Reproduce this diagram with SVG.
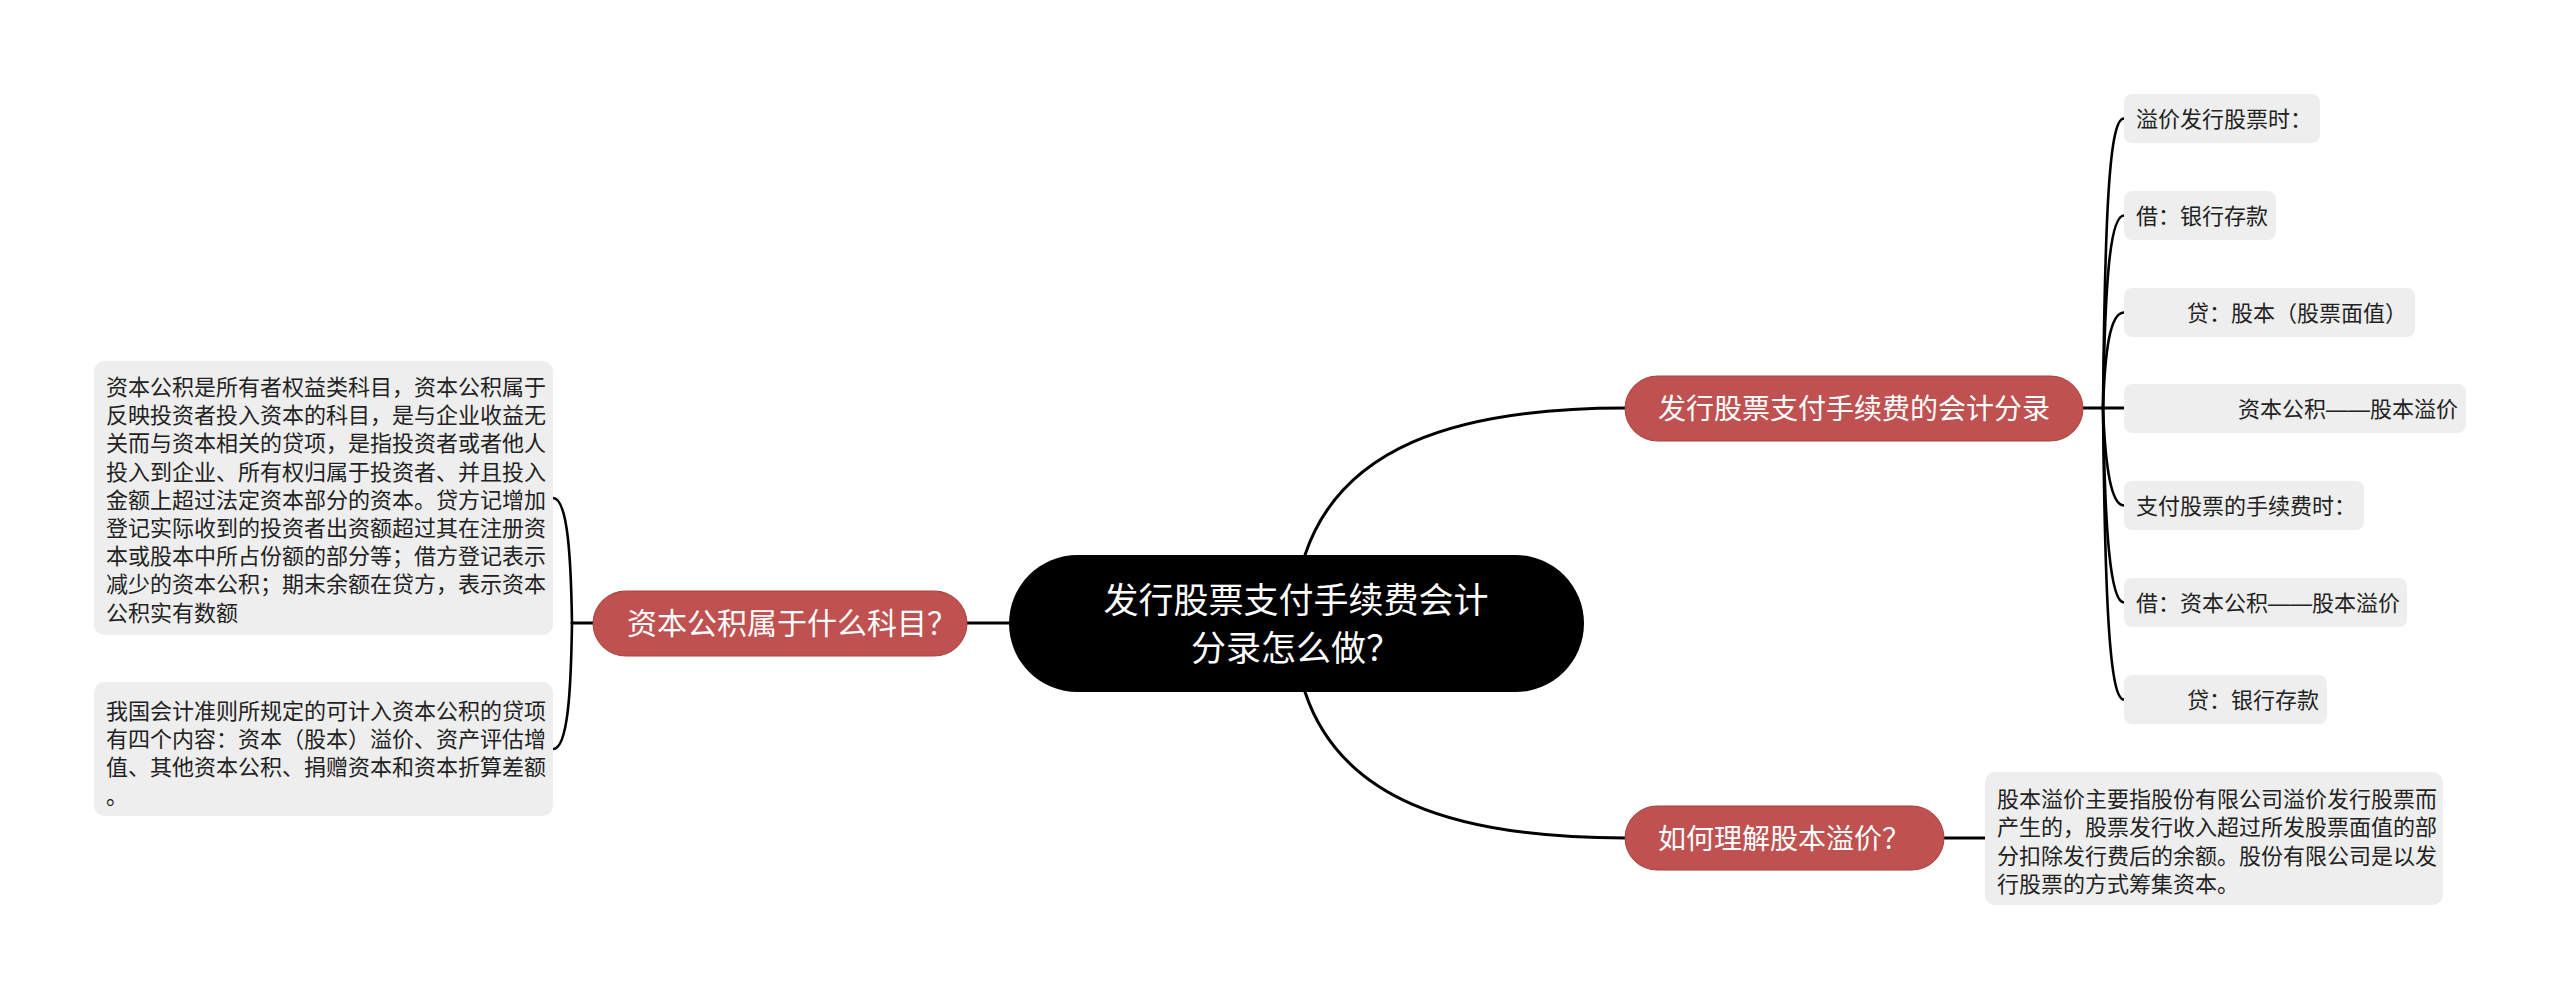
<svg xmlns="http://www.w3.org/2000/svg" width="2560" height="999" viewBox="0 0 2560 999">
<style>
.cjk{font-family:"Liberation Sans","Noto Sans CJK SC",sans-serif;}
.branch rect{fill:#bf5150;stroke:#a8403f;stroke-width:1;}
.branch text{fill:#ffffff;}
.leaf rect{fill:#eeeeee;}
.leaf text{fill:#222222;font-size:22px;}
.conn path{fill:none;stroke:#000000;stroke-width:3;stroke-linecap:round;}
.conn .thin{stroke-width:2.6;}
</style>
<rect width="2560" height="999" fill="#ffffff"/>
<g id="connectors" class="conn">
  <path d="M967 623 L1009 623"/>
  <path d="M593 623 L572 623"/>
  <path class="thin" d="M572 623 C571 560 568 498 553 498"/>
  <path class="thin" d="M572 623 C571 690 568 749 553 749"/>
  <path d="M1305 555 C1340 450 1450 408 1625 408"/>
  <path d="M1305 692 C1340 797 1450 838 1625 838"/>
  <path d="M2083 408 L2124 408"/>
  <path class="thin" d="M2103 408 C2105 200 2110 118.5 2124 118.5"/>
  <path class="thin" d="M2103 408 C2105 280 2110 215.5 2124 215.5"/>
  <path class="thin" d="M2103 408 C2105 350 2110 312.5 2124 312.5"/>
  <path class="thin" d="M2103 408 C2105 460 2110 505.5 2124 505.5"/>
  <path class="thin" d="M2103 408 C2105 530 2110 602.5 2124 602.5"/>
  <path class="thin" d="M2103 408 C2105 610 2110 699.5 2124 699.5"/>
  <path d="M1944 838 L1985 838"/>
</g>
<g id="center" class="cjk">
  <rect x="1009" y="555" width="575" height="137" rx="68.5" fill="#000000"/>
  <text x="1296" y="613" font-size="35" fill="#ffffff" text-anchor="middle">发行股票支付手续费会计</text>
  <text x="1296" y="661" font-size="35" fill="#ffffff" text-anchor="middle">分录怎么做？</text>
</g>
<g id="branch-left" class="branch cjk">
  <rect x="593" y="591" width="374" height="65" rx="32.5"/>
  <text x="627" y="634" font-size="30">资本公积属于什么科目？</text>
</g>
<g id="branch-right" class="branch cjk">
  <rect x="1625" y="376" width="458" height="65" rx="32.5"/>
  <text x="1658" y="419" font-size="28">发行股票支付手续费的会计分录</text>
</g>
<g id="branch-bottom" class="branch cjk">
  <rect x="1625" y="806" width="319" height="64" rx="32"/>
  <text x="1658" y="849" font-size="28">如何理解股本溢价？</text>
</g>
<g id="leaf-left-1" class="leaf cjk">
  <rect x="94" y="361" width="459" height="274" rx="10"/>
  <text x="106" y="395">资本公积是所有者权益类科目，资本公积属于</text>
  <text x="106" y="423.2">反映投资者投入资本的科目，是与企业收益无</text>
  <text x="106" y="451.4">关而与资本相关的贷项，是指投资者或者他人</text>
  <text x="106" y="479.6">投入到企业、所有权归属于投资者、并且投入</text>
  <text x="106" y="507.8">金额上超过法定资本部分的资本。贷方记增加</text>
  <text x="106" y="536">登记实际收到的投资者出资额超过其在注册资</text>
  <text x="106" y="564.2">本或股本中所占份额的部分等；借方登记表示</text>
  <text x="106" y="592.4">减少的资本公积；期末余额在贷方，表示资本</text>
  <text x="106" y="620.6">公积实有数额</text>
</g>
<g id="leaf-left-2" class="leaf cjk">
  <rect x="94" y="682" width="459" height="134" rx="10"/>
  <text x="106" y="719">我国会计准则所规定的可计入资本公积的贷项</text>
  <text x="106" y="747.2">有四个内容：资本（股本）溢价、资产评估增</text>
  <text x="106" y="775.4">值、其他资本公积、捐赠资本和资本折算差额</text>
  <text x="106" y="803.6">。</text>
</g>
<g id="leaf-r1" class="leaf cjk">
  <rect x="2124" y="94" width="196" height="49" rx="8"/>
  <text x="2136" y="127">溢价发行股票时：</text>
</g>
<g id="leaf-r2" class="leaf cjk">
  <rect x="2124" y="191" width="152" height="49" rx="8"/>
  <text x="2136" y="224">借：银行存款</text>
</g>
<g id="leaf-r3" class="leaf cjk">
  <rect x="2124" y="288" width="291" height="49" rx="8"/>
  <text x="2187" y="321">贷：股本（股票面值）</text>
</g>
<g id="leaf-r4" class="leaf cjk">
  <rect x="2124" y="384" width="342" height="49" rx="8"/>
  <text x="2238" y="417">资本公积——股本溢价</text>
</g>
<g id="leaf-r5" class="leaf cjk">
  <rect x="2124" y="481" width="240" height="49" rx="8"/>
  <text x="2136" y="514">支付股票的手续费时：</text>
</g>
<g id="leaf-r6" class="leaf cjk">
  <rect x="2124" y="578" width="283" height="49" rx="8"/>
  <text x="2136" y="611">借：资本公积——股本溢价</text>
</g>
<g id="leaf-r7" class="leaf cjk">
  <rect x="2124" y="675" width="203" height="49" rx="8"/>
  <text x="2187" y="708">贷：银行存款</text>
</g>
<g id="leaf-bottom" class="leaf cjk">
  <rect x="1985" y="772" width="458" height="133" rx="10"/>
  <text x="1997" y="807">股本溢价主要指股份有限公司溢价发行股票而</text>
  <text x="1997" y="835.3">产生的，股票发行收入超过所发股票面值的部</text>
  <text x="1997" y="863.6">分扣除发行费后的余额。股份有限公司是以发</text>
  <text x="1997" y="891.9">行股票的方式筹集资本。</text>
</g>
</svg>
